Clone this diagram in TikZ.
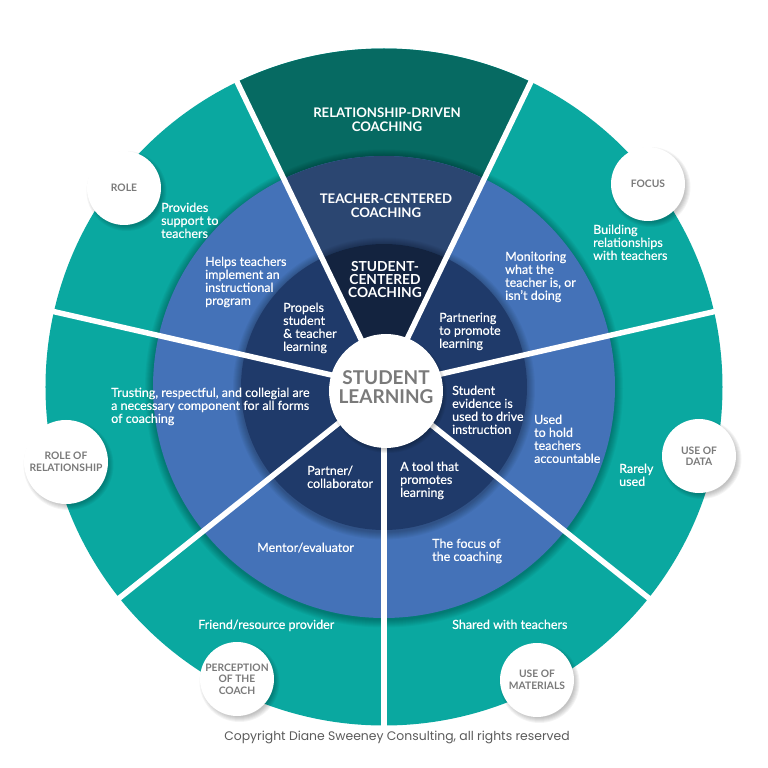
\documentclass[tikz,border=0pt]{standalone}
\usepackage{fontspec}
\setmainfont{Lato}
\newfontfamily\bodyfont{Lato}[FakeBold=0.5]
\newfontfamily\copyfont{Poppins}
\definecolor{tealA}{HTML}{0AA8A0}
\definecolor{tealD}{HTML}{066A62}
\definecolor{blueA}{HTML}{4472B8}
\definecolor{slateA}{HTML}{2B4671}
\definecolor{navyA}{HTML}{1F3A6A}
\definecolor{navyD}{HTML}{13233F}
\definecolor{lblgray}{HTML}{7A7A7A}
\definecolor{copygray}{HTML}{5A5A5A}
\newcommand\lblc[5]{%
  \foreach \k in {0,...,5}{\fill[black,opacity=0.045] ({#2+2.5},{#3-3}) circle ({#4-2+\k});}
  \node[lbl, minimum size={2*#4}] (#1) at (#2,#3) {#5};}
\begin{document}
\begin{tikzpicture}[x=1pt,y=1pt,
  body/.style={text=white, font=\bodyfont\fontsize{12.5}{13}\selectfont, align=left, anchor=north west, inner sep=0pt},
  head/.style={text=white, font=\bfseries\fontsize{13.2}{14}\selectfont, align=center, inner sep=0pt},
  lbl/.style={circle, fill=white, text=lblgray, font=\bfseries\fontsize{10.3}{11.5}\selectfont, align=center, inner sep=0pt},
  gap/.style={white, line width=5.5pt}
]
\useasboundingbox (-384,-381) rectangle (384,387);
\def\Rout{338.5}\def\Rmid{231}\def\Rin{143}
% outer ring
\fill[tealA] (0,0) circle (\Rout);
\fill[tealD] (0,0) -- (64.29:\Rout) arc[start angle=64.29,end angle=115.71,radius=\Rout] -- cycle;
% middle ring
\foreach \d in {1,...,8}{\fill[black,opacity=0.035] (0,-1.5) circle ({\Rmid+\d});}
\fill[blueA] (0,0) circle (\Rmid);
\fill[slateA] (0,0) -- (64.29:\Rmid) arc[start angle=64.29,end angle=115.71,radius=\Rmid] -- cycle;
% inner ring
\foreach \d in {1,...,8}{\fill[black,opacity=0.035] (0,-1.5) circle ({\Rin+\d});}
\fill[navyA] (0,0) circle (\Rin);
\fill[navyD] (0,0) -- (64.29:\Rin) arc[start angle=64.29,end angle=115.71,radius=\Rin] -- cycle;
% gaps
\foreach \a in {12.86,64.29,115.71,167.14,218.57,270,321.43}{\draw[gap] (0,0) -- (\a:344);}
% centre
\foreach \k in {0,...,6}{\fill[black,opacity=0.05] (4,-7) circle ({53+\k});}
\node[circle, fill=white, minimum size=114pt, inner sep=0pt] (hub) at (2,-4) {};
\node[text=lblgray, font=\bfseries\fontsize{19}{18.5}\selectfont, align=center, inner sep=0pt] (hubtext) at (2,0) {STUDENT\\LEARNING};
% headers
\node[head] (rdc) at (3,267) {RELATIONSHIP-DRIVEN\\COACHING};
\node[head] (tcc) at (2,181.5) {TEACHER-CENTERED\\COACHING};
\node[head, font=\bfseries\fontsize{13.8}{12.8}\selectfont] (scc) at (1,107.5) {STUDENT-\\CENTERED\\COACHING};
% label circles
\lblc{role}{-260}{199}{37}{ROLE}
\lblc{focus}{264}{203}{37}{FOCUS}
\lblc{rolerel}{-318}{-75}{42}{ROLE OF\\RELATIONSHIP}
\lblc{data}{315}{-69}{37}{USE OF\\DATA}
\lblc{perc}{-147}{-292}{37}{PERCEPTION\\OF THE\\COACH}
\lblc{mat}{153}{-293}{37}{USE OF\\MATERIALS}
% body texts
\node[body] (t1) at (-223,184.5) {Provides\\support to\\teachers};
\node[body] (t2) at (-179,130.5) {Helps teachers\\implement an\\instructional\\program};
\node[body] (t3) at (-101,84.5) {Propels\\student\\\& teacher\\learning};
\node[body] (t4) at (209,162.5) {Building\\relationships\\with teachers};
\node[body] (t5) at (121,135.5) {Monitoring\\what the\\teacher is, or\\isn’t doing};
\node[body] (t6) at (55,74.5) {Partnering\\to promote\\learning};
\node[body] (t7) at (-273,-0.5) {Trusting, respectful, and collegial are\\a necessary component for all forms\\of coaching};
\node[body] (t8) at (235,-76.5) {Rarely\\used};
\node[body] (t9) at (150,-27.5) {Used\\to hold\\teachers\\accountable};
\node[body] (t10) at (68,1.5) {Student\\evidence is\\used to drive\\instruction};
\node[body] (t11) at (-186,-232.5) {Friend/resource provider};
\node[body] (t12) at (-127,-155.5) {Mentor/evaluator};
\node[body] (t13) at (-77,-78.5) {Partner/\\collaborator};
\node[body] (t14) at (68,-232.5) {Shared with teachers};
\node[body] (t15) at (48,-151.5) {The focus of\\the coaching};
\node[body] (t16) at (16,-74.5) {A tool that\\promotes\\learning};
% copyright
\node[font=\copyfont\fontsize{12.4}{14}\selectfont, text=copygray, inner sep=0pt] (copy) at (13,-350) {Copyright Diane Sweeney Consulting, all rights reserved};
\end{tikzpicture}
\end{document}
